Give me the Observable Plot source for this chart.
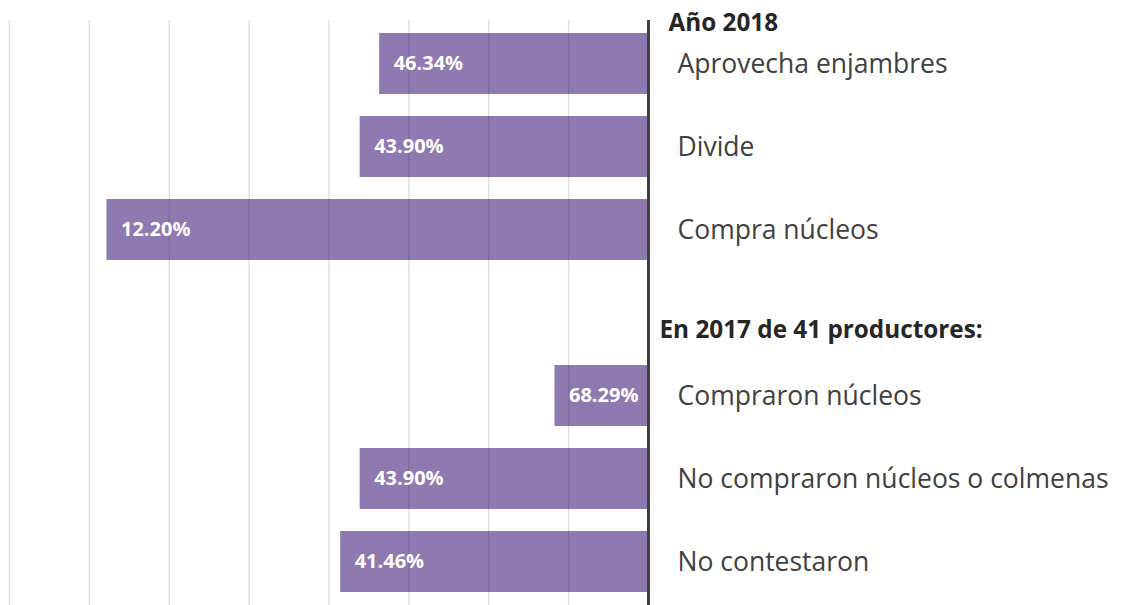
<!DOCTYPE html>
<html>
<head>
<meta charset="utf-8">
<script src="https://cdn.jsdelivr.net/npm/d3@7"></script>
<script src="https://cdn.jsdelivr.net/npm/@observablehq/plot@0.6"></script>
<style>
  html, body { margin: 0; padding: 0; background: #ffffff; }
  #chart svg { display: block; }
</style>
</head>
<body>
<div id="chart"></div>
<script>
// ---- data ----
const groups2018 = ["Aprovecha enjambres", "Divide", "Compra núcleos"];
const values2018 = [46.34, 43.90, 12.20];
const groups2017 = ["Compraron núcleos", "No compraron núcleos o colmenas", "No contestaron"];
const values2017 = [68.29, 43.90, 41.46];
const header2018 = "Año 2018";
const header2017 = "En 2017 de 41 productores:";
const gridTicks = [0, 10, 20, 30, 40, 50, 60, 70];
const axisMax = 80;
const gapRow = "\u00a0";

// ---- build table ----
const rows = [
  ...groups2018.map((label, i) => ({label, value: values2018[i]})),
  ...groups2017.map((label, i) => ({label, value: values2017[i]}))
];
const rowDomain = [...groups2018, gapRow, ...groups2017];

const FONT = "'Open Sans', 'Noto Sans', sans-serif";

const chart = Plot.plot({
  width: 1126,
  height: 605,
  marginTop: 20,
  marginBottom: 0,
  marginLeft: 9,
  marginRight: 478,
  style: {fontFamily: FONT, background: "#ffffff", overflow: "visible"},
  x: {domain: [0, axisMax], axis: null},
  y: {domain: rowDomain, axis: null, paddingInner: 0.26, paddingOuter: 0.13},
  marks: [
    Plot.barX(rows, {x1: "value", x2: () => axisMax, y: "label", fill: "#8f79b1"}),
    Plot.ruleX(gridTicks, {stroke: "#000000", strokeOpacity: 0.12, strokeWidth: 1.5}),
    Plot.ruleX([axisMax], {stroke: "#404040", strokeWidth: 3}),
    Plot.text(rows, {
      x: "value", y: "label", text: d => d.value.toFixed(2) + "%",
      textAnchor: "start", dx: 14, fill: "#ffffff", fontWeight: "bold", fontSize: 20
    }),
    Plot.text(rows, {
      x: () => axisMax, y: "label", text: "label",
      textAnchor: "start", dx: 29, dy: 1, fill: "#404040", fontSize: 26.5
    }),
    Plot.text([header2018], {
      x: () => axisMax, y: () => groups2018[0], text: d => d,
      textAnchor: "start", dx: 20, dy: -41, fill: "#262626", fontWeight: "bold", fontSize: 24.3
    }),
    Plot.text([header2017], {
      x: () => axisMax, y: () => gapRow, text: d => d,
      textAnchor: "start", dx: 11, dy: 17, fill: "#262626", fontWeight: "bold", fontSize: 24.3
    })
  ]
});
document.getElementById("chart").appendChild(chart);
</script>
</body>
</html>
